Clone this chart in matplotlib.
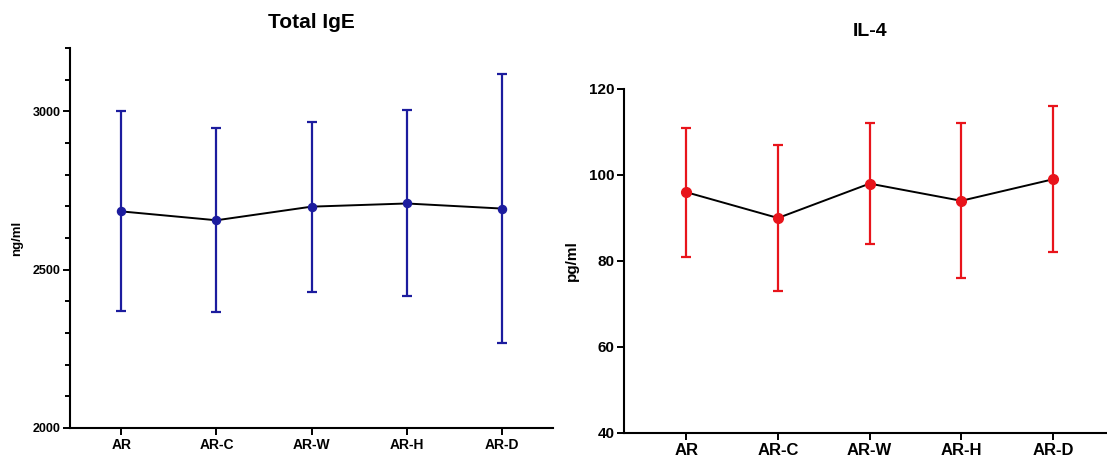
import matplotlib
matplotlib.use('Agg')
import matplotlib.pyplot as plt
import numpy as np

plt.rcParams['font.family'] = ['Liberation Sans', 'DejaVu Sans']
plt.rcParams['font.weight'] = 'bold'

groups = ['AR', 'AR-C', 'AR-W', 'AR-H', 'AR-D']

# Total IgE (ng/ml): mean, upper and lower bar ends
ige_mean = [2684, 2656, 2699, 2709, 2693]
ige_upper = [3000, 2947, 2967, 3005, 3119]
ige_lower = [2371, 2365, 2429, 2416, 2268]

# IL-4 (pg/ml)
il4_mean = [96, 90, 98, 94, 99]
il4_upper = [111, 107, 112, 112, 116]
il4_lower = [81, 73, 84, 76, 82]

W, H = 1107, 459
fig = plt.figure(figsize=(W / 100, H / 100), dpi=100)


def panel(rect, mean, upper, lower, color, ms, xlim, ylim, yticks, minor,
          ylabel, ylab_size, ytick_size, xtick_size):
    ax = fig.add_axes(rect)
    x = np.arange(len(groups))
    mean = np.array(mean)
    yerr = [mean - np.array(lower), np.array(upper) - mean]
    ax.plot(x, mean, color='black', linewidth=1.4, zorder=2)
    ax.errorbar(x, mean, yerr=yerr, fmt='none', ecolor=color,
                elinewidth=1.6, capsize=3.5, capthick=1.6, zorder=3)
    ax.plot(x, mean, 'o', color=color, markersize=ms, zorder=4)
    ax.set_xlim(*xlim)
    ax.set_ylim(*ylim)
    ax.set_xticks(x)
    ax.set_xticklabels(groups, fontsize=xtick_size, fontweight='bold')
    ax.set_yticks(yticks)
    ax.set_yticklabels([str(t) for t in yticks], fontsize=ytick_size, fontweight='bold')
    if minor:
        ax.set_yticks(np.arange(ylim[0], ylim[1] + 1, minor), minor=True)
        ax.tick_params(axis='y', which='minor', length=3.5, width=1.4)
    ax.tick_params(axis='both', which='major', length=5, width=1.4, pad=2)
    ax.spines['top'].set_visible(False)
    ax.spines['right'].set_visible(False)
    for s in ('left', 'bottom'):
        ax.spines[s].set_linewidth(1.5)
    ax.set_ylabel(ylabel, fontsize=ylab_size, fontweight='bold')
    return ax


ax1 = panel([70 / W, (H - 428) / H, 483 / W, 380 / H],
            ige_mean, ige_upper, ige_lower, '#1c1c9e', 5.8,
            (-0.54, 4.54), (2000, 3200), [2000, 2500, 3000], 100,
            'ng/ml', 9.5, 9, 10)
ax1.yaxis.set_label_coords(-0.098, 0.5)

ax2 = panel([624 / W, (H - 433) / H, 483 / W, 344 / H],
            il4_mean, il4_upper, il4_lower, '#e8141b', 7,
            (-0.68, 4.59), (40, 120), [40, 60, 80, 100, 120], None,
            'pg/ml', 11, 11, 12)
ax2.yaxis.set_label_coords(-0.093, 0.5)

fig.text(311 / W, 1 - 22 / H, 'Total IgE', ha='center', va='center',
         fontsize=15, fontweight='bold')
fig.text(870 / W, 1 - 31 / H, 'IL-4', ha='center', va='center',
         fontsize=14, fontweight='bold')

fig.savefig('out.png', dpi=100)
